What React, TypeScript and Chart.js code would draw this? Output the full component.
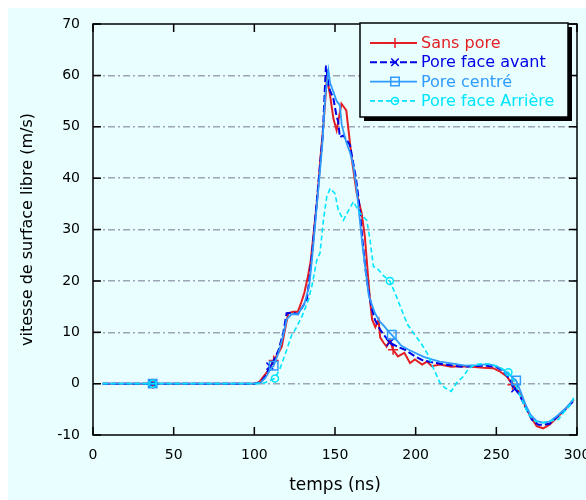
import React, { useEffect, useRef } from 'react';
import { Chart, registerables } from 'chart.js';

Chart.register(...registerables);

// ---------- data (time in ns, velocity in m/s) ----------
const seriesLabels = ['Sans pore', 'Pore face avant', 'Pore centré', 'Pore face Arrière'];

const sansPore: [number, number][] = [
  [6, 0], [37, 0], [100, 0], [103, 0.3], [106, 1.5], [109, 2.7], [112, 4.5], [115, 6], [117, 7.2],
  [119, 10.5], [121, 13.7], [124, 14], [127, 14], [129, 15.7], [131, 17.7], [133, 20.5], [135, 24],
  [137, 30], [139, 36], [141, 44], [143, 51], [145, 59.7], [147, 56], [149, 51.6], [151, 49.3],
  [154, 54.5], [157, 53.2], [158.5, 49], [160.5, 43.5], [163.5, 37], [166.5, 33.2], [168.5, 28.6],
  [170, 22.8], [171.5, 17], [173, 12.5], [175, 11], [177, 12.4], [178, 9], [180, 8], [182, 7.2],
  [184, 8.5], [186, 6.6], [189, 5.3], [193, 6], [196.5, 4], [199.5, 4.7], [204, 3.7], [207, 4.3],
  [210, 3.4], [215, 3.7], [222, 3.3], [228, 3.4], [235, 3.3], [242, 3.1], [248, 3], [252, 2.4],
  [256.5, 1.4], [260, -0.2], [264.5, -1.8], [268, -4.4], [271, -6.3], [275, -8.3], [279, -8.7],
  [283, -8], [289.5, -6], [294.5, -4.4], [298, -3.1],
];

const poreFaceAvant: [number, number][] = [
  [6, 0], [37, 0], [100, 0], [104, 0.3], [107, 1.5], [109.7, 3.4], [112, 4.5], [115, 6.5], [118, 10],
  [120, 13.7], [124, 13.8], [127, 13.5], [130, 15], [132.5, 16.3], [134, 20], [136, 26], [138, 33],
  [140, 40], [142.4, 48.3], [143.8, 58], [144.4, 61.9], [146, 58], [147, 57], [149, 55.5], [151, 52],
  [152, 51], [153, 48], [155.2, 48.3], [157, 47.5], [159.3, 46.4], [160.4, 44.5], [163, 40], [165, 35],
  [167, 28], [169, 22], [170.7, 18.3], [172.5, 15], [174.8, 12.4], [178, 10.5], [181, 9.2],
  [184, 8], [187.5, 7.4], [190, 7], [193.4, 6.6], [199.6, 5.3], [204, 4.6], [207.9, 4.3], [213, 4],
  [218, 3.7], [228.5, 3.3], [236, 3.4], [244, 3.5], [250, 3.2], [254, 2.5], [258, 1], [261.5, -1],
  [264, -2], [268, -4.5], [272, -7], [276, -8], [279, -8], [283, -7.8], [288, -6.4], [293, -5],
  [298, -3.3],
];

const poreCentre: [number, number][] = [
  [6, 0], [37, 0], [100, 0], [104, 0.2], [107, 1.2], [110, 2.8], [112, 3.5], [115, 6], [118, 9.5],
  [120, 12.5], [123, 13.5], [127, 13.5], [131, 15.5], [134, 19], [136, 25], [138, 32], [140, 39],
  [142, 46], [144, 56], [145.9, 61], [147, 58.5], [149, 56.8], [151, 55], [153, 54.2], [154.2, 50.3],
  [157, 47], [159.3, 45], [161, 43], [163, 39], [165, 33], [167, 27], [169, 22], [171, 17],
  [174.8, 13.7], [178, 12], [181, 11], [183, 10.2], [185.2, 9.5], [188, 8.5], [191, 7.4], [195, 6.7],
  [199.6, 6], [205, 5.2], [210, 4.7], [215, 4.3], [221, 4], [231, 3.5], [238, 3.6], [245, 3.8],
  [250, 3.4], [255, 2.5], [259, 1.5], [262.3, 0.6], [265, -1.5], [268, -4], [271, -6], [275, -7.3],
  [279, -7.6], [283, -7.4], [288, -6.2], [293, -4.8], [298, -3],
];

const poreFaceArriere: [number, number][] = [
  [6, 0], [37, 0], [100, 0], [105, 0], [109.7, 0.6], [112.8, 1], [116, 3], [120, 6.5], [123.2, 9.5],
  [125.3, 10.5], [129.4, 13], [133.5, 16.3], [135.6, 18.9], [138.7, 24], [140.7, 25.4], [142.8, 31.8],
  [144.9, 36.4], [147, 38], [150, 37], [152, 33.8], [155.2, 31.8], [158, 33.5], [161.4, 35.4],
  [163, 34.5], [165.5, 33.2], [169.7, 31.8], [171.7, 28], [173.8, 22.8], [176, 22.5], [180, 21],
  [184, 20], [188, 17], [192, 13.8], [195, 11.5], [198.5, 9.9], [203, 8], [207, 6], [211, 3],
  [215, 0.2], [218, -0.8], [222, -1.5], [225.5, 0.2], [229.6, 1.4], [233, 3], [237, 3.7], [242, 3.9],
  [247, 3.7], [252, 3.2], [257.5, 2.2], [261, 0.5], [264, -1.8], [267, -4], [270, -6], [274, -7.3],
  [279, -7.6], [284, -7.2], [288.5, -7], [292, -5.5], [295, -4.5], [298, -2.8],
];

// times at which markers are drawn on each curve
const sansPoreMarks = [37, 112, 186, 260];
const poreFaceAvantMarks = [37, 109.7, 184, 261.5];
const poreCentreMarks = [37, 112, 185.2, 262.3];
const poreFaceArriereMarks = [37, 112.8, 184, 257.5];

const xTickMin = 0;
const xTickMax = 300;
const xTickStep = 50;
const yTickMin = -10;
const yTickMax = 70;
const yTickStep = 10;

const FONT = '"DejaVu Sans", "Liberation Sans", sans-serif';
const BG = '#e9ffff';

type Style = 'cross' | 'crossRot' | 'rect' | 'circle';

function drawMarker(ctx: CanvasRenderingContext2D, style: Style, x: number, y: number, r: number, color: string, w: number) {
  ctx.save();
  ctx.strokeStyle = color;
  ctx.lineWidth = w;
  ctx.setLineDash([]);
  ctx.beginPath();
  if (style === 'cross') {
    ctx.moveTo(x - r, y); ctx.lineTo(x + r, y);
    ctx.moveTo(x, y - r); ctx.lineTo(x, y + r);
  } else if (style === 'crossRot') {
    const d = r * 0.75;
    ctx.moveTo(x - d, y - d); ctx.lineTo(x + d, y + d);
    ctx.moveTo(x - d, y + d); ctx.lineTo(x + d, y - d);
  } else if (style === 'rect') {
    const s = r / Math.SQRT2;
    ctx.rect(x - s, y - s, 2 * s, 2 * s);
  } else {
    ctx.arc(x, y, r, 0, Math.PI * 2);
  }
  ctx.stroke();
  ctx.restore();
}

const bgPlugin = {
  id: 'bgFill',
  beforeDraw(chart: any) {
    const { ctx, width, height } = chart;
    ctx.save();
    ctx.fillStyle = BG;
    ctx.fillRect(0, 0, width, height);
    ctx.restore();
  },
};

const framePlugin = {
  id: 'frameTicks',
  afterDatasetsDraw(chart: any) {
    const { ctx, chartArea: a, scales } = chart;
    const tl = 8;
    ctx.save();
    ctx.strokeStyle = '#000';
    ctx.lineWidth = 1.5;
    ctx.setLineDash([]);
    ctx.beginPath();
    for (const t of scales.x.ticks) {
      const px = scales.x.getPixelForValue(t.value);
      ctx.moveTo(px, a.bottom); ctx.lineTo(px, a.bottom - tl);
      ctx.moveTo(px, a.top); ctx.lineTo(px, a.top + tl);
    }
    for (const t of scales.y.ticks) {
      const py = scales.y.getPixelForValue(t.value);
      ctx.moveTo(a.left, py); ctx.lineTo(a.left + tl, py);
      ctx.moveTo(a.right, py); ctx.lineTo(a.right - tl, py);
    }
    ctx.stroke();
    ctx.strokeRect(a.left, a.top, a.right - a.left, a.bottom - a.top);
    ctx.restore();
  },
};

const legendPlugin = {
  id: 'boxLegend',
  afterDraw(chart: any) {
    const { ctx, chartArea: a } = chart;
    const bw = 208, bh = 94;
    const bx = a.right - 9 - bw;
    const by = a.top - 1;
    ctx.save();
    ctx.fillStyle = '#000';
    ctx.fillRect(bx + 4, by + 4, bw, bh);
    ctx.fillStyle = BG;
    ctx.fillRect(bx, by, bw, bh);
    ctx.strokeStyle = '#000';
    ctx.lineWidth = 1.5;
    ctx.strokeRect(bx, by, bw, bh);
    chart.data.datasets.forEach((ds: any, i: number) => {
      const y = by + 20 + i * 19.3;
      ctx.strokeStyle = ds.borderColor;
      ctx.lineWidth = ds.borderWidth;
      ctx.setLineDash(ds.borderDash || []);
      ctx.beginPath();
      ctx.moveTo(bx + 10, y);
      ctx.lineTo(bx + 57, y);
      ctx.stroke();
      drawMarker(ctx, ds.pointStyle, bx + 35, y, ds.markRadius, ds.borderColor, 1.5);
      ctx.setLineDash([]);
      ctx.fillStyle = ds.borderColor;
      ctx.font = `16px ${FONT}`;
      ctx.textBaseline = 'middle';
      ctx.textAlign = 'left';
      ctx.fillText(ds.label, bx + 61, y + 1);
    });
    ctx.restore();
  },
};

function makeDataset(label: string, pts: [number, number][], marks: number[], color: string,
  width: number, dash: number[], style: Style, r: number, order: number) {
  return {
    label,
    data: pts.map(([x, y]) => ({ x, y })),
    borderColor: color,
    backgroundColor: 'rgba(0,0,0,0)',
    borderWidth: width,
    borderDash: dash,
    tension: 0,
    pointStyle: style,
    markRadius: r,
    pointRadius: (c: any) => (c.raw && marks.includes(c.raw.x) ? r : 0),
    pointBorderColor: color,
    pointBackgroundColor: 'rgba(0,0,0,0)',
    pointBorderWidth: 1.5,
    order,
  };
}

export default function App() {
  const ref = useRef<HTMLCanvasElement | null>(null);

  useEffect(() => {
    if (!ref.current) return;
    const chart = new Chart(ref.current, {
      type: 'line',
      data: {
        datasets: [
          makeDataset(seriesLabels[0], sansPore, sansPoreMarks, '#e31e24', 2, [], 'cross', 5, 4),
          makeDataset(seriesLabels[1], poreFaceAvant, poreFaceAvantMarks, '#0000e6', 2, [7, 3], 'crossRot', 5, 3),
          makeDataset(seriesLabels[2], poreCentre, poreCentreMarks, '#2f9bff', 1.8, [], 'rect', 6, 2),
          makeDataset(seriesLabels[3], poreFaceArriere, poreFaceArriereMarks, '#00e5ff', 1.6, [5, 3], 'circle', 3.5, 1),
        ] as any,
      },
      options: {
        responsive: false,
        devicePixelRatio: 1,
        animation: false,
        events: [],
        layout: { padding: { left: 0, top: 16, right: 9, bottom: 0 } },
        plugins: { legend: { display: false }, tooltip: { enabled: false } },
        scales: {
          x: {
            type: 'linear',
            min: xTickMin,
            max: xTickMax,
            ticks: {
              stepSize: xTickStep, color: '#000', font: { family: FONT, size: 14 }, padding: 12,
              maxRotation: 0, autoSkip: false,
            },
            grid: { display: false, drawTicks: false },
            border: { display: false },
            title: {
              display: true, text: 'temps (ns)', color: '#000',
              font: { family: FONT, size: 17 }, padding: { top: 0, bottom: 4 },
            },
            afterFit: (s: any) => { s.height = 65; s.paddingLeft = 0; s.paddingRight = 0; },
          },
          y: {
            type: 'linear',
            min: yTickMin,
            max: yTickMax,
            ticks: { stepSize: yTickStep, color: '#000', font: { family: FONT, size: 14 }, padding: 13 },
            grid: {
              drawTicks: false,
              lineWidth: 1.5,
              color: (c: any) => (c.tick && (c.tick.value === yTickMin || c.tick.value === yTickMax) ? 'rgba(0,0,0,0)' : '#9ea5b5'),
            },
            border: { display: false, dash: [7, 3, 2, 3] },
            title: {
              display: true, text: 'vitesse de surface libre (m/s)', color: '#000',
              font: { family: FONT, size: 16 }, padding: { top: 10, bottom: 0 },
            },
            afterFit: (s: any) => { s.width = 85; s.paddingTop = 0; s.paddingBottom = 0; },
          },
        },
      } as any,
      plugins: [bgPlugin, framePlugin, legendPlugin],
    });
    return () => chart.destroy();
  }, []);

  return (
    <div style={{ position: 'fixed', left: 8, top: 8, width: 578, height: 492 }}>
      <canvas ref={ref} width={578} height={492} style={{ display: 'block' }} />
    </div>
  );
}
